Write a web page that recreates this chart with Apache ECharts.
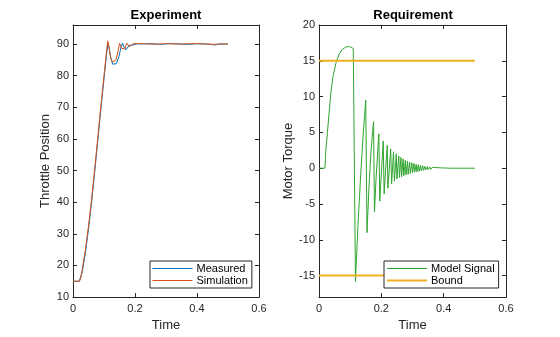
<!DOCTYPE html>
<html>
<head>
<meta charset="utf-8">
<script src="https://cdn.jsdelivr.net/npm/echarts@6/dist/echarts.min.js"></script>
<style>html,body{margin:0;padding:0;background:#fff}#c{width:560px;height:337px}</style>
</head>
<body>
<div id="c"></div>
<script>
// ---- Experiment panel data ----
var measuredTime = [0,0.02,0.024,0.03,0.04,0.05,0.06,0.07,0.08,0.09,0.10,0.108,0.113,0.117,0.122,0.128,0.134,0.14,0.148,0.155,0.160,0.165,0.170,0.176,0.182,0.187,0.193,0.2,0.21,0.22,0.25,0.28,0.31,0.34,0.37,0.40,0.43,0.46,0.47,0.5];
var measuredValue = [15,15,15.5,18,24,31.5,40,49.5,59.5,69.5,79,86.5,90.3,88.5,85.5,83.6,83.2,83.8,86,89,90.3,89,88.1,88.4,89.6,90.1,89.6,89.9,90.1,90,90.1,89.9,90.1,90,89.9,90.1,90,89.7,90,90];
var simTime = [0,0.021,0.025,0.03,0.04,0.05,0.06,0.07,0.08,0.09,0.10,0.108,0.112,0.116,0.121,0.127,0.132,0.138,0.145,0.150,0.153,0.158,0.163,0.168,0.173,0.177,0.182,0.188,0.194,0.2,0.23,0.26,0.3,0.35,0.4,0.45,0.5];
var simValue = [15,15,16,18.8,25,32.5,41,50.5,60.5,70.5,80,87.5,91,89,86,84.3,84,84.8,87.5,90.2,90.7,88.5,87.9,88.6,90.3,90,89.1,89.4,90.1,90,90.1,89.9,90.1,90,90.1,89.9,90];
var expYTicks = [10,20,30,40,50,60,70,80,90];
var xTicks = [0,0.2,0.4,0.6];

// ---- Requirement panel data ----
var modelTime = [0,0.019,0.022,0.027,0.033,0.038,0.045,0.055,0.065,0.075,0.085,0.095,0.103,0.110,0.1125,0.117,0.125,0.135,0.143,0.150,0.154,0.160,0.167,0.175,0.178,0.183,0.192,0.195,0.200,0.206,0.209,0.214,0.219,0.221,0.230,0.233,0.239,0.242,0.248,0.250,0.256,0.258,0.263,0.265,0.270,0.272,0.277,0.279,0.284,0.286,0.291,0.293,0.298,0.300,0.305,0.307,0.312,0.314,0.319,0.321,0.326,0.328,0.333,0.335,0.340,0.342,0.348,0.350,0.356,0.358,0.365,0.367,0.375,0.377,0.390,0.392,0.410,0.420,0.5];
var modelValue = [0,0,2.5,5,8,10.5,12.8,14.8,16,16.6,16.9,17,16.9,16.7,16.5,-15.8,-8,0,5.5,9.5,-9,-3,2.5,6.5,-6.1,-1.5,4.8,-4.6,-0.8,3.8,-3.6,0,3.2,-2.8,2.7,-2.2,2.3,-1.8,2.0,-1.5,1.7,-1.3,1.5,-1.2,1.3,-1.05,1.1,-0.95,1.0,-0.85,0.85,-0.75,0.75,-0.65,0.65,-0.55,0.55,-0.5,0.48,-0.42,0.4,-0.36,0.33,-0.3,0.27,-0.24,0.22,-0.2,0.17,-0.15,0.13,-0.11,0.09,-0.08,0.05,-0.04,0.02,0,0];
var boundTime = [0,0.5];
var upperBound = [15,15];
var lowerBound = [-15,-15];
var reqYTicks = [-15,-10,-5,0,5,10,15,20];

function pairs(t, v){ return t.map(function(x,i){ return [x, v[i]]; }); }

var FONT = 'Liberation Sans, Arial, Helvetica, sans-serif';
var AX = '#262626';
var C_MEAS = '#0072BD', C_SIM = '#D95319', C_MODEL = '#2fa52f', C_BOUND = '#EDB120';

function xAxisBottom(g){
  return {type:'value', gridIndex:g, position:'bottom', min:0, max:0.6, interval:0.2,
    name:'Time', nameLocation:'middle', nameGap:19,
    nameTextStyle:{fontFamily:FONT, fontSize:13, color:AX},
    axisLine:{show:true, onZero:false, lineStyle:{color:AX, width:1}},
    axisTick:{show:true, inside:true, length:4, lineStyle:{color:AX}},
    axisLabel:{fontFamily:FONT, fontSize:11, color:AX, margin:6},
    splitLine:{show:false}};
}
function xAxisTop(g){
  return {type:'value', gridIndex:g, position:'top', min:0, max:0.6, interval:0.2,
    axisLine:{show:true, onZero:false, lineStyle:{color:AX, width:1}},
    axisTick:{show:true, inside:true, length:4, lineStyle:{color:AX}},
    axisLabel:{show:false}, splitLine:{show:false}};
}
function yAxisLeft(g, min, max, ticks, name, gap){
  return {type:'value', gridIndex:g, position:'left', min:min, max:max,
    name:name, nameLocation:'middle', nameGap:gap,
    nameTextStyle:{fontFamily:FONT, fontSize:13, color:AX},
    axisLine:{show:true, onZero:false, lineStyle:{color:AX, width:1}},
    axisTick:{show:true, inside:true, length:4, customValues:ticks, lineStyle:{color:AX}},
    axisLabel:{fontFamily:FONT, fontSize:11, color:AX, margin:4, customValues:ticks},
    splitLine:{show:false}};
}
function yAxisRight(g, min, max, ticks){
  return {type:'value', gridIndex:g, position:'right', min:min, max:max,
    axisLine:{show:true, onZero:false, lineStyle:{color:AX, width:1}},
    axisTick:{show:true, inside:true, length:4, customValues:ticks, lineStyle:{color:AX}},
    axisLabel:{show:false, customValues:ticks}, splitLine:{show:false}};
}

var legendCommon = {orient:'vertical', borderColor:AX, borderWidth:1, backgroundColor:'#fff',
  padding:[2,4,2,2], itemGap:1, itemWidth:40, itemHeight:11,
  itemStyle:{opacity:0},
  textStyle:{fontFamily:FONT, fontSize:11, color:'#000', padding:[0,0,0,-1]}, selectedMode:false};

var option = {
  animation:false,
  backgroundColor:'#fff',
  title:[
    {text:'Experiment', left:166, top:9, textAlign:'center', padding:0,
     textStyle:{fontFamily:FONT, fontSize:13, fontWeight:'bold', color:'#000'}},
    {text:'Requirement', left:413, top:9, textAlign:'center', padding:0,
     textStyle:{fontFamily:FONT, fontSize:13, fontWeight:'bold', color:'#000'}}
  ],
  grid:[
    {left:73, top:25, width:186, height:274, containLabel:false},
    {left:319, top:25, width:187, height:274, containLabel:false}
  ],
  xAxis:[xAxisBottom(0), xAxisTop(0), xAxisBottom(1), xAxisTop(1)],
  yAxis:[
    yAxisLeft(0, 10, 96, expYTicks, 'Throttle Position', 21),
    yAxisRight(0, 10, 96, expYTicks),
    yAxisLeft(1, -18, 20, reqYTicks, 'Motor Torque', 24),
    yAxisRight(1, -18, 20, reqYTicks)
  ],
  legend:[
    Object.assign({}, legendCommon, {data:[
      {name:'Measured', lineStyle:{width:1, color:C_MEAS}},
      {name:'Simulation', lineStyle:{width:1, color:C_SIM}}], left:150, top:261}),
    Object.assign({}, legendCommon, {data:[
      {name:'Model Signal', lineStyle:{width:1, color:C_MODEL}},
      {name:'Bound', lineStyle:{width:2, color:C_BOUND}}], left:384, top:261})
  ],
  series:[
    {name:'Measured', type:'line', xAxisIndex:0, yAxisIndex:0, symbol:'none', data:pairs(measuredTime, measuredValue),
     lineStyle:{color:C_MEAS, width:1}, itemStyle:{color:C_MEAS}},
    {name:'Simulation', type:'line', xAxisIndex:0, yAxisIndex:0, symbol:'none', data:pairs(simTime, simValue),
     lineStyle:{color:C_SIM, width:1}, itemStyle:{color:C_SIM}},
    {name:'Model Signal', type:'line', xAxisIndex:2, yAxisIndex:2, symbol:'none', data:pairs(modelTime, modelValue),
     lineStyle:{color:C_MODEL, width:1}, itemStyle:{color:C_MODEL}},
    {name:'Bound', type:'line', xAxisIndex:2, yAxisIndex:2, symbol:'none', data:pairs(boundTime, upperBound),
     lineStyle:{color:C_BOUND, width:2}, itemStyle:{color:C_BOUND}},
    {name:'Bound', type:'line', xAxisIndex:2, yAxisIndex:2, symbol:'none', data:pairs(boundTime, lowerBound),
     lineStyle:{color:C_BOUND, width:2}, itemStyle:{color:C_BOUND}}
  ]
};
var chart = echarts.init(document.getElementById('c'), null, {renderer:'canvas'});
chart.setOption(option);
</script>
</body>
</html>
